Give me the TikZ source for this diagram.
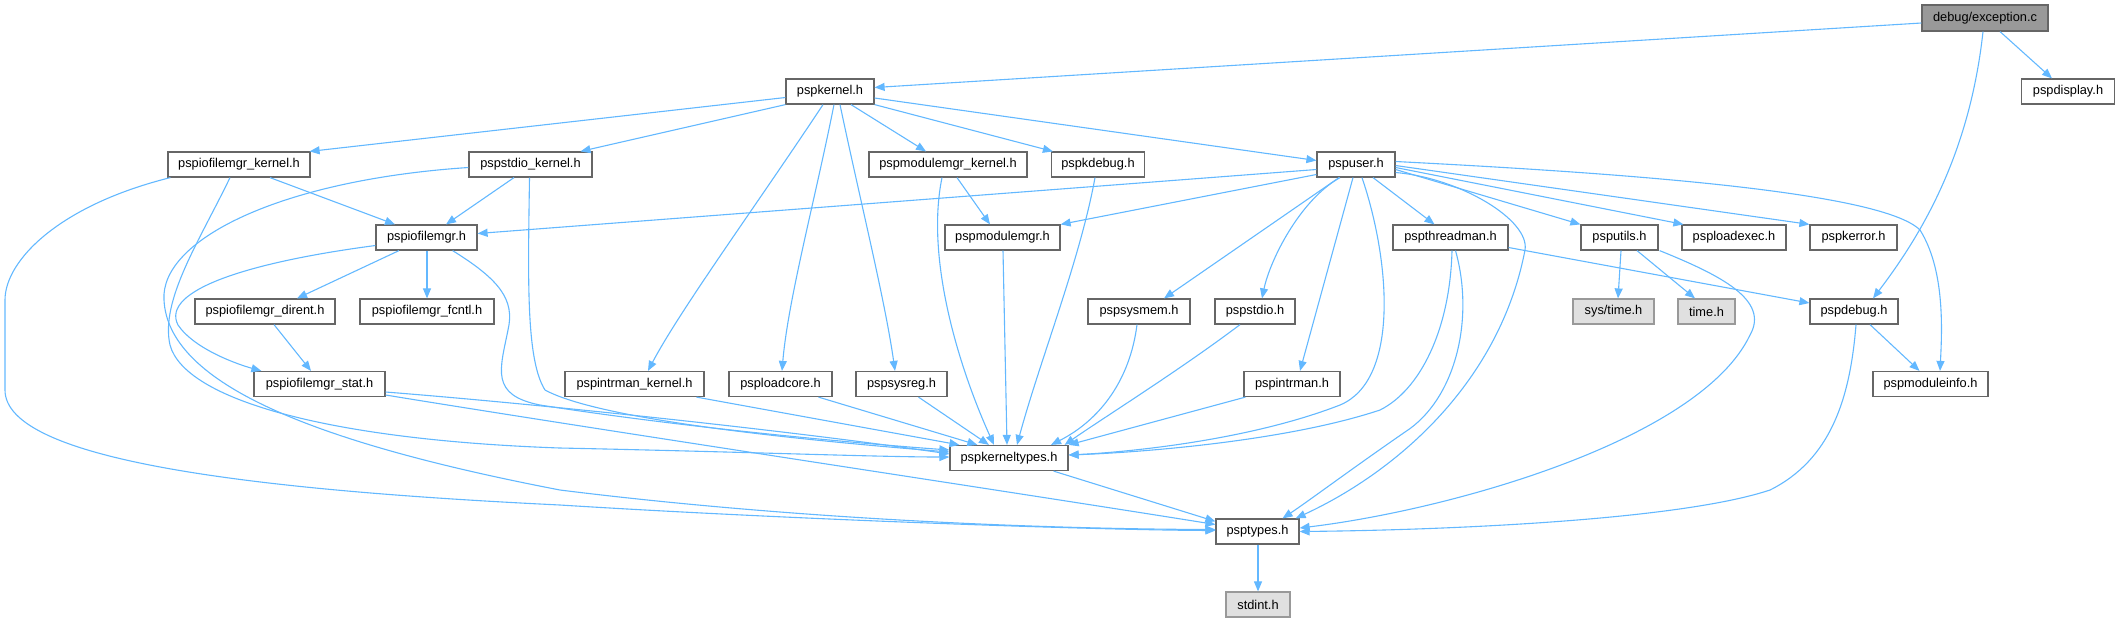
\documentclass[tikz,border=0pt]{standalone}
\usepackage{fontspec}
\setmainfont{Liberation Sans}
\usetikzlibrary{arrows.meta}
\definecolor{edgeblue}{HTML}{63B8FF}
\definecolor{boxborder}{HTML}{666666}
\definecolor{greyfill}{HTML}{E0E0E0}
\definecolor{greyborder}{HTML}{999999}
\definecolor{mainfill}{HTML}{999999}
\begin{document}
\begin{tikzpicture}[x=0.5pt,y=-0.5pt,
  box/.style={draw=boxborder, fill=white, line width=0.6pt, minimum height=12.5pt, inner sep=0pt, font=\fontsize{6.4}{7}\selectfont},
  bw/.style={minimum width=#1*0.5pt},
  greybox/.style={box, fill=greyfill, draw=greyborder},
  mainbox/.style={box, fill=mainfill, draw=boxborder, minimum height=13pt},
  edge/.style={draw=edgeblue, line width=0.55pt, -{Triangle[length=5pt,width=4pt]}}]
\useasboundingbox (0,0) rectangle (2125,623);
% nodes
\node[mainbox,bw=126] (exc) at (1985,18) {debug/exception.c};
\node[box,bw=93] (display) at (2068,91.5) {pspdisplay.h};
\node[box,bw=88] (kernel) at (830,91.5) {pspkernel.h};
\node[box,bw=142] (iofk) at (239,164.5) {pspiofilemgr\_kernel.h};
\node[box,bw=123] (stdk) at (530.5,164.5) {pspstdio\_kernel.h};
\node[box,bw=158] (modk) at (948,164.5) {pspmodulemgr\_kernel.h};
\node[box,bw=93] (kdebug) at (1098,164.5) {pspkdebug.h};
\node[box,bw=78] (user) at (1356,164.5) {pspuser.h};
\node[box,bw=101] (iofm) at (426.5,237.5) {pspiofilemgr.h};
\node[box,bw=115] (modm) at (1002.5,237.5) {pspmodulemgr.h};
\node[box,bw=115] (thread) at (1450.5,237.5) {pspthreadman.h};
\node[box,bw=77] (utils) at (1619.5,237.5) {psputils.h};
\node[box,bw=104] (loadexec) at (1734,237.5) {psploadexec.h};
\node[box,bw=87] (kerror) at (1853.5,237.5) {pspkerror.h};
\node[box,bw=140] (dirent) at (265,311.5) {pspiofilemgr\_dirent.h};
\node[box,bw=134] (fcntl) at (427,311.5) {pspiofilemgr\_fcntl.h};
\node[box,bw=102] (sysmem) at (1139,311.5) {pspsysmem.h};
\node[box,bw=80] (stdio) at (1255,311.5) {pspstdio.h};
\node[greybox,bw=81] (systime) at (1613.5,311.5) {sys/time.h};
\node[greybox,bw=57] (timeh) at (1706.5,311.5) {time.h};
\node[box,bw=88] (debug) at (1854,311.5) {pspdebug.h};
\node[box,bw=131] (stat) at (319.5,384) {pspiofilemgr\_stat.h};
\node[box,bw=139] (intrk) at (634.5,384) {pspintrman\_kernel.h};
\node[box,bw=103] (loadcore) at (780.5,384) {psploadcore.h};
\node[box,bw=91] (sysreg) at (901.5,384) {pspsysreg.h};
\node[box,bw=96] (intrman) at (1292,384) {pspintrman.h};
\node[box,bw=115] (modinfo) at (1930.5,384) {pspmoduleinfo.h};
\node[box,bw=118] (ktypes) at (1009,458) {pspkerneltypes.h};
\node[box,bw=83] (types) at (1257.5,531.5) {psptypes.h};
\node[greybox,bw=64] (stdint) at (1258,604.5) {stdint.h};
% edges from exception.c
\draw[edge] ([shift={(0,5)}]exc.west) -- ([shift={(0,-4)}]kernel.east);
\draw[edge] ([shift={(15,0)}]exc.south) -- ([shift={(-16,0)}]display.north);
\draw[edge] ([shift={(-2,0)}]exc.south) .. controls (1970,150) and (1925,230) .. ([shift={(19,0)}]debug.north);
% edges from pspkernel.h
\draw[edge] ([shift={(0,6)}]kernel.west) -- ([shift={(-1,0)}]iofk.north east);
\draw[edge] (kernel.south west) -- ([shift={(50,0)}]stdk.north);
\draw[edge] ([shift={(21,0)}]kernel.south) -- ([shift={(-22,0)}]modk.north);
\draw[edge] (kernel.south east) -- ([shift={(2,0)}]kdebug.north west);
\draw[edge] ([shift={(0,6.5)}]kernel.east) -- ([shift={(0,-4)}]user.west);
\draw[edge] ([shift={(-7,0)}]kernel.south) .. controls (760,200) and (680,310) .. ([shift={(13.5,0)}]intrk.north);
\draw[edge] ([shift={(4,0)}]kernel.south) .. controls (815,200) and (788,300) .. ([shift={(1.5,0)}]loadcore.north);
\draw[edge] ([shift={(10,0)}]kernel.south) .. controls (860,200) and (885,300) .. ([shift={(-6.5,0)}]sysreg.north);
% pspiofilemgr_kernel.h
\draw[edge] ([shift={(31,0)}]iofk.south) -- ([shift={(-31.5,0)}]iofm.north);
\draw[edge] ([shift={(-9,0)}]iofk.south) .. controls (200,240) and (160,300) .. (170,345)
  .. controls (185,400) and (330,440) .. (560,448) .. controls (750,452) and (880,457) .. ([shift={(0,-1)}]ktypes.west);
\draw[edge] ([shift={(3,0)}]iofk.south west) .. controls (60,205) and (5,260) .. (5,300) -- (5,390)
  .. controls (5,460) and (250,490) .. (560,505) .. controls (800,520) and (1100,530) .. ([shift={(0,-1)}]types.west);
% pspstdio_kernel.h
\draw[edge] ([shift={(-16.5,0)}]stdk.south) -- ([shift={(19.5,0)}]iofm.north);
\draw[edge] ([shift={(-1,0)}]stdk.south) .. controls (528,280) and (526,360) .. (545,390)
  .. controls (600,420) and (800,440) .. ([shift={(0,-6)}]ktypes.west);
\draw[edge] ([shift={(0,3)}]stdk.west) .. controls (280,180) and (160,240) .. (164,300)
  .. controls (168,380) and (300,440) .. (560,490) .. controls (800,520) and (1050,529) .. ([shift={(0,-2)}]types.west);
% pspiofilemgr.h
\draw[edge] ([shift={(-27.5,0)}]iofm.south) -- ([shift={(32,0)}]dirent.north);
\draw[edge] ([shift={(0.5,0)}]iofm.south) -- (fcntl.north);
\draw[edge] ([shift={(0,8)}]iofm.west) .. controls (250,262) and (160,290) .. (178,325)
  .. controls (195,350) and (240,365) .. ([shift={(8,0)}]stat.north west);
\draw[edge] ([shift={(-25,0)}]iofm.south east) .. controls (500,280) and (515,300) .. (508,330)
  .. controls (500,370) and (490,395) .. (540,405) .. controls (700,430) and (880,445) .. ([shift={(0,-8)}]ktypes.west);
\draw[edge] ([shift={(9,0)}]dirent.south) -- ([shift={(-8.5,0)}]stat.north);
% pspiofilemgr_stat.h
\draw[edge] ([shift={(0,8)}]stat.east) .. controls (550,405) and (800,432) .. ([shift={(0,-4)}]ktypes.west);
\draw[edge] ([shift={(0,11)}]stat.east) .. controls (600,430) and (1000,490) .. ([shift={(0,-7)}]types.west);
% module manager
\draw[edge] ([shift={(9,0)}]modk.south) -- ([shift={(-12.5,0)}]modm.north);
\draw[edge] ([shift={(-6,0)}]modk.south) .. controls (925,260) and (960,370) .. ([shift={(-15,0)}]ktypes.north);
\draw[edge] ([shift={(-3,0)}]kdebug.south) .. controls (1080,260) and (1040,360) .. ([shift={(8,0)}]ktypes.north);
\draw[edge] ([shift={(0.5,0)}]modm.south) -- ([shift={(-2,0)}]ktypes.north);
% pspuser.h
\draw[edge] ([shift={(0,5)}]user.west) -- ([shift={(0,-4)}]iofm.east);
\draw[edge] ([shift={(0,10)}]user.west) -- (modm.north east);
\draw[edge] ([shift={(-17,0)}]user.south) -- ([shift={(25,0)}]sysmem.north);
\draw[edge] ([shift={(-16,0)}]user.south) .. controls (1300,200) and (1270,260) .. ([shift={(7,0)}]stdio.north);
\draw[edge] ([shift={(-3,0)}]user.south) -- ([shift={(8,0)}]intrman.north);
\draw[edge] ([shift={(6,0)}]user.south) .. controls (1390,260) and (1400,380) .. (1340,405)
  .. controls (1250,440) and (1130,452) .. ([shift={(0,-3)}]ktypes.east);
\draw[edge] ([shift={(17,0)}]user.south) -- ([shift={(-16,0)}]thread.north);
\draw[edge] ([shift={(0,5)}]user.east) -- (utils.north west);
\draw[edge] ([shift={(0,3)}]user.east) -- ([shift={(2,0)}]loadexec.north west);
\draw[edge] ([shift={(0,1)}]user.east) -- (kerror.north west);
\draw[edge] ([shift={(0,-3)}]user.east) .. controls (1600,172) and (1880,190) .. (1920,230)
  .. controls (1945,270) and (1942,330) .. ([shift={(9.5,0)}]modinfo.north);
\draw[edge] ([shift={(0,8)}]user.east) .. controls (1460,178) and (1530,220) .. (1525,250)
  .. controls (1500,380) and (1400,470) .. ([shift={(-4,0)}]types.north east);
% pspthreadman.h
\draw[edge] ([shift={(0,10)}]thread.east) -- ([shift={(0,-8.5)}]debug.west);
\draw[edge] ([shift={(1.5,0)}]thread.south) .. controls (1450,330) and (1420,390) .. (1380,410)
  .. controls (1290,440) and (1150,452) .. ([shift={(0,-3)}]ktypes.east);
\draw[edge] ([shift={(5,0)}]thread.south) .. controls (1475,320) and (1455,400) .. (1405,432)
  .. controls (1350,470) and (1310,500) .. ([shift={(25,0)}]types.north);
% psputils.h
\draw[edge] ([shift={(1.5,0)}]utils.south) -- ([shift={(4.5,0)}]systime.north);
\draw[edge] ([shift={(17.5,0)}]utils.south) -- ([shift={(-11.5,0)}]timeh.north);
\draw[edge] ([shift={(1,0)}]utils.south east) .. controls (1720,275) and (1770,300) .. (1750,335)
  .. controls (1700,440) and (1450,510) .. ([shift={(0,-3.5)}]types.east);
% into pspkerneltypes.h
\draw[edge] ([shift={(-2,0)}]sysmem.south) .. controls (1130,380) and (1100,420) .. ([shift={(42,0)}]ktypes.north);
\draw[edge] ([shift={(-15,0)}]stdio.south) .. controls (1180,370) and (1100,420) .. ([shift={(-4,0)}]ktypes.north east);
\draw[edge] ([shift={(2,0)}]intrman.south west) -- (ktypes.north east);
\draw[edge] ([shift={(62,0)}]intrk.south) -- ([shift={(10,0)}]ktypes.north west);
\draw[edge] ([shift={(38,0)}]loadcore.south) -- ([shift={(28,0)}]ktypes.north west);
\draw[edge] ([shift={(17,0)}]sysreg.south) -- ([shift={(-20,0)}]ktypes.north);
% pspdebug.h
\draw[edge] ([shift={(16,0)}]debug.south) -- ([shift={(-11,0)}]modinfo.north);
\draw[edge] ([shift={(2,0)}]debug.south) .. controls (1850,400) and (1830,460) .. (1770,490)
  .. controls (1680,520) and (1450,530) .. (types.east);
% bottom
\draw[edge] ([shift={(-15,0)}]ktypes.south east) -- ([shift={(0,3)}]types.north west);
\draw[edge] ([shift={(0.5,0)}]types.south) -- (stdint.north);
\end{tikzpicture}
\end{document}
